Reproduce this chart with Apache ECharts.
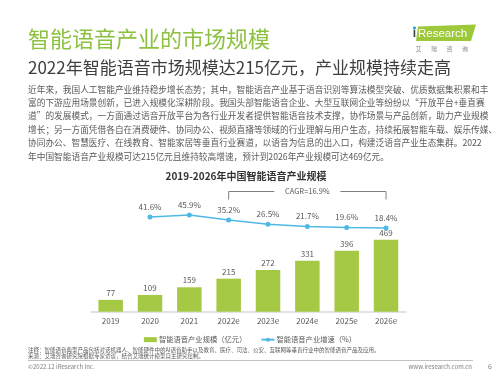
<!DOCTYPE html>
<html>
<head>
<meta charset="utf-8">
<script src="https://cdn.jsdelivr.net/npm/echarts@6/dist/echarts.min.js"></script>
<style>
html,body{margin:0;padding:0;background:#fff;}
#chart{width:500px;height:374px;}
</style>
</head>
<body>
<div id="chart"></div>
<script>
// ---- data ----
const years = ['2019', '2020', '2021', '2022e', '2023e', '2024e', '2025e', '2026e'];
const marketSize = [77, 109, 159, 215, 272, 331, 396, 469];           // 亿元
const growthRate = [null, 41.6, 45.9, 35.2, 26.5, 21.7, 19.6, 18.4];  // %
const cagrLabel = 'CAGR=16.9%';
const cagrFrom = '2022e';
const cagrTo = '2026e';
const seriesNames = ['智能语音产业规模（亿元）', '智能语音产业增速（%）'];

const pageTitle = '智能语音产业的市场规模';
const pageSubtitle = '2022年智能语音市场规模达215亿元，产业规模持续走高';
const paragraphLines = [
  '近年来，我国人工智能产业维持稳步增长态势；其中，智能语音产业基于语音识别等算法模型突破、优质数据集积累和丰',
  '富的下游应用场景创新，已进入规模化深耕阶段。我国头部智能语音企业、大型互联网企业等纷纷以“开放平台+垂直赛',
  '道”的发展模式，一方面通过语音开放平台为各行业开发者提供智能语音技术支撑，协作场景与产品创新，助力产业规模',
  '增长；另一方面凭借各自在消费硬件、协同办公、视频直播等领域的行业理解与用户生态，持续拓展智能车载、娱乐传媒、',
  '协同办公、智慧医疗、在线教育、智能家居等垂直行业赛道，以语音为信息的出入口，构建泛语音产业生态集群。2022',
  '年中国智能语音产业规模可达215亿元且维持较高增速，预计到2026年产业规模可达469亿元。'
];
const chartTitle = '2019-2026年中国智能语音产业规模';
const noteText = '注释：智能语音典型产品包括对话机器人、智能硬件中的AI语音助手以及教育、医疗、司法、公安、互联网等垂直行业中的智能语音产品及应用。';
const sourceText = '来源：艾瑞咨询研究院根据专家访谈，结合艾瑞统计模型自主研究绘制。';
const copyrightText = '©2022.12 iResearch Inc.';
const siteText = 'www.iresearch.com.cn';
const pageNo = '6';
const logoCnChars = ['艾', '瑞', '咨', '询'];

// ---- style ----
const FONT = '"Noto Sans CJK SC", "Noto Sans", sans-serif';
const GREEN = '#a5c944';
const TITLE_GREEN = '#8dc241';
const BLUE = '#4fb9e6';
const TXT = '#595959';

const chart = echarts.init(document.getElementById('chart'));

const staticGraphics = [
  { id: 'title', type: 'text', left: 28, top: 28, style: { text: pageTitle, fill: TITLE_GREEN, font: '22px ' + FONT } },
  { id: 'sub', type: 'text', left: 28, top: 59, style: { text: pageSubtitle, fill: '#3f3f3f', font: '17px ' + FONT } },
  { id: 'para', type: 'text', left: 28, top: 82.5, style: { text: paragraphLines.join('\n'), fill: TXT, font: '8.7px ' + FONT, lineHeight: 13.4 } },
  { id: 'ctitle', type: 'text', x: 246, y: 176, style: { text: chartTitle, fill: '#333', font: 'bold 10px ' + FONT, align: 'center', verticalAlign: 'middle' } },
  // logo
  { id: 'logoBg', type: 'polygon', shape: { points: [[418, 26.5], [476, 24.5], [471, 41], [416, 41]] }, style: { fill: '#9cc83a' } },
  { id: 'logoI', type: 'text', x: 414.5, y: 34, style: { text: 'i', fill: '#3a4a3a', font: 'bold 12px "Liberation Sans", sans-serif', align: 'center', verticalAlign: 'middle' } },
  { id: 'logoDot', type: 'circle', shape: { cx: 414.5, cy: 28, r: 1.4 }, style: { fill: '#2a8fd6' } },
  { id: 'logoR', type: 'text', x: 418, y: 34, style: { text: 'Research', fill: '#fff', font: '11.5px "Liberation Sans", sans-serif', verticalAlign: 'middle' } }
].concat(logoCnChars.map((c, i) => ({
  id: 'logoCn' + i, type: 'text', x: 418.5 + i * 15.5, y: 48.5,
  style: { text: c, fill: '#8a8a8a', font: '6px ' + FONT, align: 'center', verticalAlign: 'middle' }
}))).concat([
  // footnotes
  { id: 'note', type: 'text', x: 28, y: 349.5, style: { text: noteText, fill: TXT, font: '5.5px ' + FONT, verticalAlign: 'middle' } },
  { id: 'src', type: 'text', x: 28, y: 355.5, style: { text: sourceText, fill: TXT, font: '5.5px ' + FONT, verticalAlign: 'middle' } },
  { id: 'hr', type: 'line', shape: { x1: 28, y1: 360.5, x2: 473, y2: 360.5 }, style: { stroke: '#b0b0b0', lineWidth: 0.8 } },
  { id: 'copy', type: 'text', x: 28, y: 366.5, style: { text: copyrightText, fill: '#7f7f7f', font: '6px ' + FONT, verticalAlign: 'middle' } },
  { id: 'site', type: 'text', x: 472, y: 366.5, style: { text: siteText, fill: '#7f7f7f', font: '6px ' + FONT, align: 'right', verticalAlign: 'middle' } },
  { id: 'pg', type: 'text', x: 490, y: 366.5, style: { text: pageNo, fill: '#7f7f7f', font: '7px ' + FONT, align: 'center', verticalAlign: 'middle' } }
]);

const option = {
  backgroundColor: '#fff',
  animation: false,
  textStyle: { fontFamily: FONT },
  grid: { left: 91, right: 94.3, top: 200, bottom: 62.3, containLabel: false },
  legend: {
    data: [
      { name: seriesNames[0], icon: 'rect', itemStyle: { color: GREEN } },
      { name: seriesNames[1] }
    ],
    left: 'center', top: 331, itemWidth: 13, itemHeight: 5, itemGap: 14,
    textStyle: { fontSize: 7.3, color: TXT, fontFamily: FONT, padding: [0, 0, 0, -3] }
  },
  xAxis: {
    type: 'category', data: years,
    axisTick: { show: false },
    axisLine: { lineStyle: { color: '#d9d9d9', width: 1.5 } },
    axisLabel: { color: TXT, fontSize: 8, margin: 5, fontFamily: FONT }
  },
  yAxis: [
    { type: 'value', min: 0, max: 727, show: false, splitLine: { show: false } },
    { type: 'value', min: -158.5, max: 77.7, show: false, splitLine: { show: false } }
  ],
  series: [
    {
      name: seriesNames[0], type: 'bar', data: marketSize, barWidth: 24.5,
      itemStyle: { color: GREEN },
      label: { show: true, position: 'top', distance: 3, color: TXT, fontSize: 8, fontFamily: FONT }
    },
    {
      name: seriesNames[1], type: 'line', yAxisIndex: 1, data: growthRate,
      symbol: 'circle', symbolSize: 5,
      itemStyle: { color: BLUE }, lineStyle: { color: BLUE, width: 1.5 },
      label: { show: true, position: 'top', distance: 4, color: TXT, fontSize: 8, fontFamily: FONT, formatter: p => p.value.toFixed(1) + '%' }
    }
  ],
  graphic: staticGraphics
};
chart.setOption(option);

// CAGR bracket, anchored to category positions
const xa = chart.convertToPixel({ xAxisIndex: 0 }, cagrFrom);
const xb = chart.convertToPixel({ xAxisIndex: 0 }, cagrTo);
const mid = (xa + xb) / 2;
const yTop = 191.5, yBot = 199.5, halfGap = 33;
chart.setOption({
  graphic: staticGraphics.concat([
    { id: 'bl', type: 'polyline', shape: { points: [[xa, yBot], [xa, yTop], [mid - halfGap, yTop]] }, style: { stroke: '#808080', lineWidth: 1, fill: null } },
    { id: 'br', type: 'polyline', shape: { points: [[mid + halfGap, yTop], [xb, yTop], [xb, yBot]] }, style: { stroke: '#808080', lineWidth: 1, fill: null } },
    { id: 'cagr', type: 'text', x: mid, y: yTop, style: { text: cagrLabel, fill: TXT, font: '7.5px ' + FONT, align: 'center', verticalAlign: 'middle' } }
  ])
});
</script>
</body>
</html>
